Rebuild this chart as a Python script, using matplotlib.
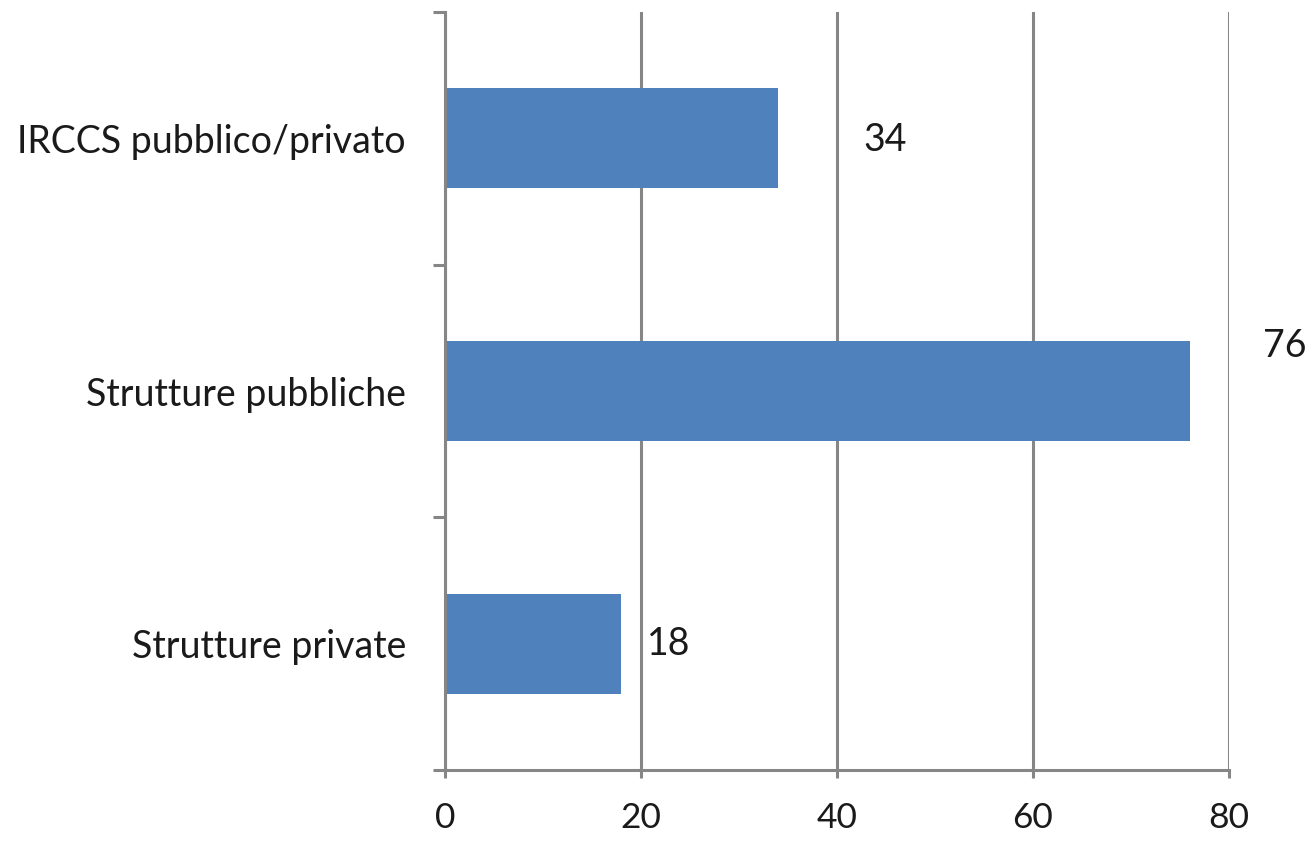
import matplotlib
matplotlib.use("Agg")
import matplotlib.pyplot as plt
from matplotlib.ticker import FixedLocator

categories = ["Strutture private", "Strutture pubbliche", "IRCCS pubblico/privato"]
values = [18, 76, 34]
x_ticks = [0, 20, 40, 60, 80]

# label offsets in pixels (dx, dy) relative to bar end / bar center
label_offsets = [(47, 0), (95, 45), (107, -2)]

plt.rcParams['font.family'] = ['Lato', 'DejaVu Sans']
fig = plt.figure(figsize=(13.11, 8.42), dpi=100)
ax = fig.add_axes([445/1311, 1-770/842, (1229-445)/1311, (770-12)/842])

bar_color = "#4F81BD"
grid_color = "#868686"
text_color = "#1a1a1a"
fs = 27

ypos = list(range(len(categories)))
ax.barh(ypos, values, height=0.395, color=bar_color, zorder=3)

ax.set_xlim(0, 80)
ax.set_ylim(-0.5, len(categories) - 0.5)
ax.set_xticks(x_ticks)
ax.set_xticklabels([str(t) for t in x_ticks])
ax.set_yticks(ypos)
ax.set_yticklabels(categories)
ax.yaxis.set_minor_locator(FixedLocator([i - 0.5 for i in range(len(categories) + 1)]))

ax.tick_params(axis='y', which='major', length=0, pad=28, labelsize=fs, labelcolor=text_color)
ax.tick_params(axis='y', which='minor', length=9, width=2.2, color=grid_color, direction='out')
ax.tick_params(axis='x', which='major', length=6, width=2.2, color=grid_color, direction='out',
               pad=17, labelsize=25.5, labelcolor=text_color)

ax.grid(axis='x', color=grid_color, linewidth=2.2, zorder=1)
for s in ['top', 'right']:
    ax.spines[s].set_visible(False)
for s in ['left', 'bottom']:
    ax.spines[s].set_color(grid_color)
    ax.spines[s].set_linewidth(2.2)
    ax.spines[s].set_zorder(4)

for y, v, (dx, dy) in zip(ypos, values, label_offsets):
    ax.annotate(str(v), xy=(v, y), xytext=(dx * 0.72, dy * 0.72), textcoords='offset points',
                ha='center', va='center', fontsize=fs, color=text_color, annotation_clip=False)

fig.savefig("out.png", dpi=100)
